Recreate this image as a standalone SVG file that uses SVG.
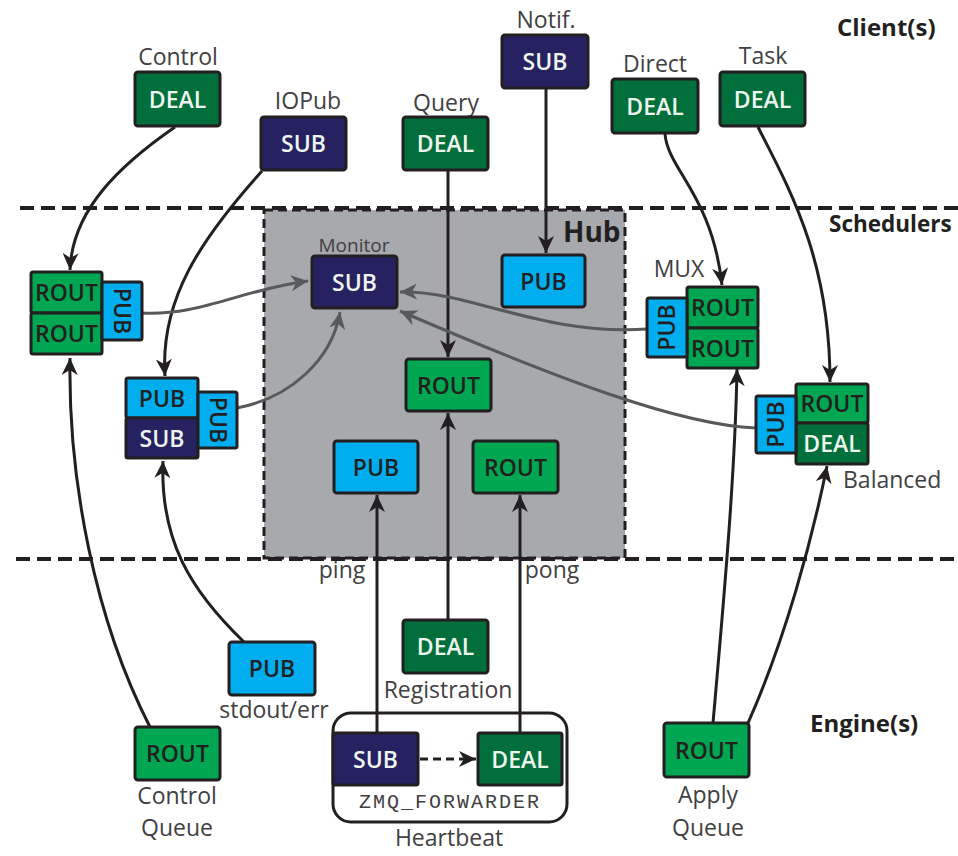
<svg xmlns="http://www.w3.org/2000/svg" width="958" height="856" viewBox="0 0 958 856">
<style>
.b{stroke:#231f20;stroke-width:3}
.deal{fill:#006f3b}
.rout{fill:#00a651}
.sub{fill:#262262}
.pub{fill:#00aeef}
.t{font-family:"Open Sans","Liberation Sans",sans-serif;font-weight:600;font-size:23px;text-anchor:middle}
.w{fill:#eef5ee}
.k{fill:#231f20}
.lbl{font-family:"Open Sans","Liberation Sans",sans-serif;font-size:23px;fill:#414042;text-anchor:middle}
.hdr{font-family:"Open Sans","Liberation Sans",sans-serif;font-weight:700;font-size:24px;fill:#231f20}
.c{fill:none;stroke:#231f20;stroke-width:3;marker-end:url(#ab)}
.g{fill:none;stroke:#58595b;stroke-width:3;marker-end:url(#ag)}
.dl{fill:none;stroke:#231f20;stroke-width:4;stroke-dasharray:14 7}
</style>
<defs>
<marker id="ab" markerUnits="userSpaceOnUse" markerWidth="18" markerHeight="16" refX="17" refY="8" orient="auto">
<path d="M0,0 L17,8 L0,16 L5,8 Z" fill="#231f20"/>
</marker>
<marker id="ag" markerUnits="userSpaceOnUse" markerWidth="18" markerHeight="16" refX="17" refY="8" orient="auto">
<path d="M0,0 L17,8 L0,16 L5,8 Z" fill="#58595b"/>
</marker>
</defs>
<rect width="958" height="856" fill="#ffffff"/>

<g id="hub">
<rect x="264" y="210" width="361" height="348" fill="#a7a9ac" stroke="#231f20" stroke-width="3" stroke-dasharray="9 5"/>
<text class="hdr" x="563" y="242" style="font-size:28px">Hub</text>
</g>

<g id="tiers">
<line class="dl" x1="20" y1="208" x2="958" y2="208"/>
<line class="dl" x1="16" y1="559" x2="958" y2="559"/>
<text class="hdr" x="837" y="36">Client(s)</text>
<text class="hdr" x="829" y="232" style="font-size:22.5px">Schedulers</text>
<text class="hdr" x="810" y="732">Engine(s)</text>
</g>

<g id="heartbeat-box">
<rect x="333" y="713" width="234" height="109" rx="18" fill="none" stroke="#231f20" stroke-width="3"/>
</g>

<g id="connectors">
<path class="c" d="M175,127 C120,165 72,210 70,270"/>
<path class="c" d="M262,171 C200,240 160,300 165,376"/>
<path class="c" d="M448,171 L448,357"/>
<path class="c" d="M546,89 L546,253"/>
<path class="c" d="M665,134 C668,170 712,195 722,285"/>
<path class="c" d="M758,127 C790,190 830,260 830,382"/>
<path class="c" d="M150,727 C95,620 68,480 70,358"/>
<path class="c" d="M244,642 C190,590 160,540 163,461"/>
<path class="c" d="M713,723 C722,620 735,480 737,369"/>
<path class="c" d="M748,723 C785,640 812,540 827,466"/>
<path class="c" d="M448,620 L448,413"/>
<path class="c" d="M377,733 L377,495"/>
<path class="c" d="M520,733 L520,495"/>
<path class="c" d="M420,759 L476,759" stroke-dasharray="8 5"/>
<path class="g" d="M142,313 C200,316 240,290 308,281"/>
<path class="g" d="M237,408 C290,398 332,360 340,312"/>
<path class="g" d="M647,329 C540,336 470,290 400,292"/>
<path class="g" d="M756,428 C680,425 560,380 400,311"/>
</g>

<g id="control-deal">
<text class="lbl" x="178" y="65">Control</text>
<rect class="b deal" x="135" y="72" width="85" height="54" rx="3"/>
<text class="t w" x="177.5" y="107.5">DEAL</text>
</g>
<g id="iopub-sub">
<text class="lbl" x="308" y="109">IOPub</text>
<rect class="b sub" x="261" y="117" width="85" height="53" rx="3"/>
<text class="t w" x="303.5" y="152">SUB</text>
</g>
<g id="query-deal">
<text class="lbl" x="446" y="111">Query</text>
<rect class="b deal" x="403" y="117" width="85" height="53" rx="3"/>
<text class="t w" x="445.5" y="152">DEAL</text>
</g>
<g id="notif-sub">
<text class="lbl" x="546" y="28">Notif.</text>
<rect class="b sub" x="502" y="35" width="86" height="53" rx="3"/>
<text class="t w" x="545" y="70">SUB</text>
</g>
<g id="direct-deal">
<text class="lbl" x="655" y="72">Direct</text>
<rect class="b deal" x="612" y="79" width="86" height="54" rx="3"/>
<text class="t w" x="655" y="114.5">DEAL</text>
</g>
<g id="task-deal">
<text class="lbl" x="763" y="64">Task</text>
<rect class="b deal" x="720" y="72" width="85" height="54" rx="3"/>
<text class="t w" x="762.5" y="107.5">DEAL</text>
</g>

<g id="control-scheduler">
<rect class="b rout" x="31" y="272" width="71" height="41" rx="2"/>
<rect class="b rout" x="31" y="313" width="71" height="41" rx="2"/>
<text class="t k" x="66.5" y="301">ROUT</text>
<text class="t k" x="66.5" y="342">ROUT</text>
<rect class="b pub" x="102" y="282" width="40" height="58" rx="2"/>
<text class="t k" transform="translate(122,311) rotate(90)" x="0" y="8">PUB</text>
</g>

<g id="iopub-scheduler">
<rect class="b pub" x="126" y="378" width="72" height="40" rx="2"/>
<rect class="b sub" x="126" y="418" width="72" height="40" rx="2"/>
<text class="t k" x="162" y="406.5">PUB</text>
<text class="t w" x="162" y="446.5">SUB</text>
<rect class="b pub" x="198" y="392" width="39" height="56" rx="2"/>
<text class="t k" transform="translate(217.5,420) rotate(90)" x="0" y="8">PUB</text>
</g>

<g id="monitor-sub">
<text class="lbl" x="354" y="252" style="font-size:19px">Monitor</text>
<rect class="b sub" x="312" y="256" width="85" height="52" rx="3"/>
<text class="t w" x="354.5" y="290.5">SUB</text>
</g>
<g id="hub-pub-notif">
<rect class="b pub" x="502" y="255" width="83" height="52" rx="3"/>
<text class="t k" x="543.5" y="289.5">PUB</text>
</g>
<g id="hub-rout-query">
<rect class="b rout" x="406" y="359" width="85" height="52" rx="3"/>
<text class="t k" x="448.5" y="393.5">ROUT</text>
</g>
<g id="hub-pub-ping">
<rect class="b pub" x="334" y="441" width="84" height="52" rx="3"/>
<text class="t k" x="376" y="475.5">PUB</text>
</g>
<g id="hub-rout-pong">
<rect class="b rout" x="473" y="441" width="85" height="52" rx="3"/>
<text class="t k" x="515.5" y="475.5">ROUT</text>
</g>

<g id="mux-scheduler">
<text class="lbl" x="679" y="277">MUX</text>
<rect class="b rout" x="687" y="287" width="71" height="41" rx="2"/>
<rect class="b rout" x="687" y="328" width="71" height="40" rx="2"/>
<text class="t k" x="722.5" y="316">ROUT</text>
<text class="t k" x="722.5" y="356.5">ROUT</text>
<rect class="b pub" x="647" y="298" width="40" height="59" rx="2"/>
<text class="t k" transform="translate(667,327.5) rotate(-90)" x="0" y="8">PUB</text>
</g>

<g id="balanced-scheduler">
<rect class="b rout" x="796" y="384" width="72" height="39" rx="2"/>
<rect class="b deal" x="796" y="423" width="72" height="41" rx="2"/>
<text class="t k" x="832" y="412">ROUT</text>
<text class="t w" x="832" y="452">DEAL</text>
<rect class="b pub" x="756" y="396" width="40" height="57" rx="2"/>
<text class="t k" transform="translate(776,424.5) rotate(-90)" x="0" y="8">PUB</text>
<text class="lbl" x="843" y="488" style="text-anchor:start">Balanced</text>
</g>

<g id="labels-ping-pong">
<text class="lbl" x="342" y="578">ping</text>
<text class="lbl" x="552" y="578">pong</text>
</g>

<g id="registration-deal">
<rect class="b deal" x="403" y="620" width="85" height="53" rx="3"/>
<text class="t w" x="445.5" y="655">DEAL</text>
<text class="lbl" x="448" y="698">Registration</text>
</g>
<g id="stdout-pub">
<rect class="b pub" x="229" y="642" width="86" height="53" rx="3"/>
<text class="t k" x="272" y="677">PUB</text>
<text class="lbl" x="274" y="718">stdout/err</text>
</g>
<g id="control-queue-rout">
<rect class="b rout" x="135" y="727" width="85" height="53" rx="3"/>
<text class="t k" x="177.5" y="762">ROUT</text>
<text class="lbl" x="177" y="804">Control</text>
<text class="lbl" x="177" y="836">Queue</text>
</g>
<g id="apply-queue-rout">
<rect class="b rout" x="664" y="723" width="85" height="54" rx="3"/>
<text class="t k" x="706.5" y="758.5">ROUT</text>
<text class="lbl" x="708" y="803">Apply</text>
<text class="lbl" x="708" y="836">Queue</text>
</g>

<g id="heartbeat">
<rect class="b sub" x="333" y="733" width="85" height="52" rx="2"/>
<text class="t w" x="375.5" y="767.5">SUB</text>
<rect class="b deal" x="478" y="733" width="84" height="52" rx="2"/>
<text class="t w" x="520" y="767.5">DEAL</text>
<text x="450" y="808" font-family="'Liberation Mono','DejaVu Sans Mono',monospace" font-size="20" letter-spacing="2" fill="#414042" text-anchor="middle">ZMQ_FORWARDER</text>
<text class="lbl" x="449" y="846">Heartbeat</text>
</g>
</svg>
